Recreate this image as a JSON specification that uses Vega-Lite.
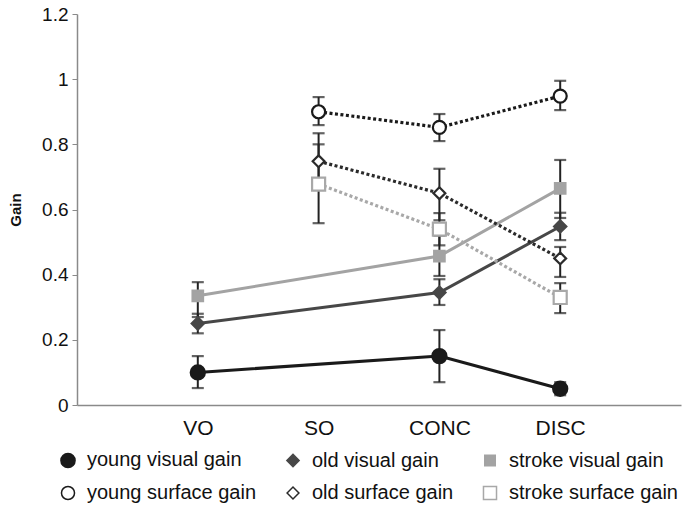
{
  "$schema": "https://vega.github.io/schema/vega-lite/v6.json",
  "width": 604,
  "height": 391,
  "autosize": {"type": "none"},
  "padding": {"left": 77, "top": 14, "right": 10, "bottom": 102},
  "background": "white",
  "config": {
    "view": {"stroke": null},
    "font": "Liberation Sans",
    "legend": {
      "orient": "none",
      "legendX": -19,
      "legendY": 436,
      "direction": "horizontal",
      "columns": 3,
      "columnPadding": 26,
      "rowPadding": 12,
      "labelFontSize": 20,
      "labelColor": "#111",
      "labelOffset": 9,
      "symbolStrokeWidth": 1.5,
      "labelLimit": 300
    }
  },
  "data": {
    "values": [
      {"series": "young visual gain", "cond": "VO", "gain": 0.10, "lo": 0.052, "hi": 0.15},
      {"series": "young visual gain", "cond": "CONC", "gain": 0.15, "lo": 0.07, "hi": 0.23},
      {"series": "young visual gain", "cond": "DISC", "gain": 0.05, "lo": 0.03, "hi": 0.07},
      {"series": "old visual gain", "cond": "VO", "gain": 0.25, "lo": 0.22, "hi": 0.28},
      {"series": "old visual gain", "cond": "CONC", "gain": 0.345, "lo": 0.307, "hi": 0.386},
      {"series": "old visual gain", "cond": "DISC", "gain": 0.548, "lo": 0.506, "hi": 0.59},
      {"series": "stroke visual gain", "cond": "VO", "gain": 0.335, "lo": 0.27, "hi": 0.377},
      {"series": "stroke visual gain", "cond": "CONC", "gain": 0.457, "lo": 0.396, "hi": 0.52},
      {"series": "stroke visual gain", "cond": "DISC", "gain": 0.665, "lo": 0.574, "hi": 0.752},
      {"series": "young surface gain", "cond": "SO", "gain": 0.90, "lo": 0.859, "hi": 0.945},
      {"series": "young surface gain", "cond": "CONC", "gain": 0.852, "lo": 0.81, "hi": 0.893},
      {"series": "young surface gain", "cond": "DISC", "gain": 0.948, "lo": 0.905, "hi": 0.995},
      {"series": "old surface gain", "cond": "SO", "gain": 0.748, "lo": 0.66, "hi": 0.834},
      {"series": "old surface gain", "cond": "CONC", "gain": 0.65, "lo": 0.567, "hi": 0.725},
      {"series": "old surface gain", "cond": "DISC", "gain": 0.45, "lo": 0.393, "hi": 0.485},
      {"series": "stroke surface gain", "cond": "SO", "gain": 0.678, "lo": 0.558, "hi": 0.80},
      {"series": "stroke surface gain", "cond": "CONC", "gain": 0.54, "lo": 0.49, "hi": 0.589},
      {"series": "stroke surface gain", "cond": "DISC", "gain": 0.33, "lo": 0.282, "hi": 0.374}
    ]
  },
  "layer": [
    {
      "transform": [{"filter": "datum.series === 'young visual gain'"}],
      "mark": {"type": "line", "strokeWidth": 3, "color": "#1a1a1a"},
      "encoding": {
        "x": {
          "field": "cond",
          "type": "nominal",
          "scale": {"type": "point", "domain": ["VO", "SO", "CONC", "DISC"], "padding": 1},
          "axis": {
            "title": null,
            "labelAngle": 0,
            "labelFontSize": 21,
            "labelColor": "#111",
            "labelPadding": 12,
            "ticks": false,
            "domainColor": "#8a8a8a",
            "domainWidth": 1.5,
            "grid": false
          }
        },
        "y": {
          "field": "gain",
          "type": "quantitative",
          "scale": {"domain": [0, 1.2], "nice": false, "zero": true},
          "axis": {
            "title": "Gain",
            "titleFontSize": 15,
            "titleFontWeight": "bold",
            "titleColor": "#111",
            "titlePadding": 18,
            "values": [0, 0.2, 0.4, 0.6, 0.8, 1, 1.2],
            "format": "~g",
            "labelFontSize": 19,
            "labelColor": "#111",
            "labelPadding": 4,
            "tickSize": 5,
            "tickColor": "#8a8a8a",
            "domainColor": "#8a8a8a",
            "domainWidth": 1.5,
            "grid": false
          }
        }
      }
    },
    {
      "transform": [{"filter": "datum.series === 'old visual gain'"}],
      "mark": {"type": "line", "strokeWidth": 3, "color": "#474747"},
      "encoding": {
        "x": {"field": "cond", "type": "nominal"},
        "y": {"field": "gain", "type": "quantitative"}
      }
    },
    {
      "transform": [{"filter": "datum.series === 'stroke visual gain'"}],
      "mark": {"type": "line", "strokeWidth": 3, "color": "#a3a3a3"},
      "encoding": {
        "x": {"field": "cond", "type": "nominal"},
        "y": {"field": "gain", "type": "quantitative"}
      }
    },
    {
      "transform": [{"filter": "datum.series === 'young surface gain'"}],
      "mark": {"type": "line", "strokeWidth": 3.2, "color": "#1a1a1a", "strokeDash": [3, 2.5]},
      "encoding": {
        "x": {"field": "cond", "type": "nominal"},
        "y": {"field": "gain", "type": "quantitative"}
      }
    },
    {
      "transform": [{"filter": "datum.series === 'old surface gain'"}],
      "mark": {"type": "line", "strokeWidth": 3.2, "color": "#2b2b2b", "strokeDash": [3, 2.5]},
      "encoding": {
        "x": {"field": "cond", "type": "nominal"},
        "y": {"field": "gain", "type": "quantitative"}
      }
    },
    {
      "transform": [{"filter": "datum.series === 'stroke surface gain'"}],
      "mark": {"type": "line", "strokeWidth": 3.2, "color": "#a8a8a8", "strokeDash": [3, 2.5]},
      "encoding": {
        "x": {"field": "cond", "type": "nominal"},
        "y": {"field": "gain", "type": "quantitative"}
      }
    },
    {
      "mark": {"type": "rule", "color": "#222", "strokeWidth": 2},
      "encoding": {
        "x": {"field": "cond", "type": "nominal"},
        "y": {"field": "lo", "type": "quantitative"},
        "y2": {"field": "hi"}
      }
    },
    {
      "mark": {"type": "tick", "color": "#222", "size": 12, "thickness": 2.2},
      "encoding": {
        "x": {"field": "cond", "type": "nominal"},
        "y": {"field": "lo", "type": "quantitative"}
      }
    },
    {
      "mark": {"type": "tick", "color": "#222", "size": 12, "thickness": 2.2},
      "encoding": {
        "x": {"field": "cond", "type": "nominal"},
        "y": {"field": "hi", "type": "quantitative"}
      }
    },
    {
      "mark": {"type": "point", "opacity": 1, "strokeWidth": 2.2, "filled": false},
      "encoding": {
        "x": {"field": "cond", "type": "nominal"},
        "y": {"field": "gain", "type": "quantitative"},
        "shape": {
          "field": "series",
          "type": "nominal",
          "title": null,
          "scale": {
            "domain": ["young visual gain", "old visual gain", "stroke visual gain", "young surface gain", "old surface gain", "stroke surface gain"],
            "range": ["circle", "diamond", "square", "circle", "diamond", "square"]
          }
        },
        "fill": {
          "field": "series",
          "type": "nominal",
          "title": null,
          "scale": {
            "domain": ["young visual gain", "old visual gain", "stroke visual gain", "young surface gain", "old surface gain", "stroke surface gain"],
            "range": ["#1a1a1a", "#474747", "#a3a3a3", "#ffffff", "#ffffff", "#ffffff"]
          }
        },
        "stroke": {
          "field": "series",
          "type": "nominal",
          "title": null,
          "scale": {
            "domain": ["young visual gain", "old visual gain", "stroke visual gain", "young surface gain", "old surface gain", "stroke surface gain"],
            "range": ["#1a1a1a", "#474747", "#a3a3a3", "#1a1a1a", "#2b2b2b", "#a8a8a8"]
          }
        },
        "size": {
          "field": "series",
          "type": "nominal",
          "title": null,
          "scale": {
            "type": "ordinal",
            "domain": ["young visual gain", "old visual gain", "stroke visual gain", "young surface gain", "old surface gain", "stroke surface gain"],
            "range": [200, 150, 110, 170, 140, 170]
          }
        }
      }
    }
  ]
}
